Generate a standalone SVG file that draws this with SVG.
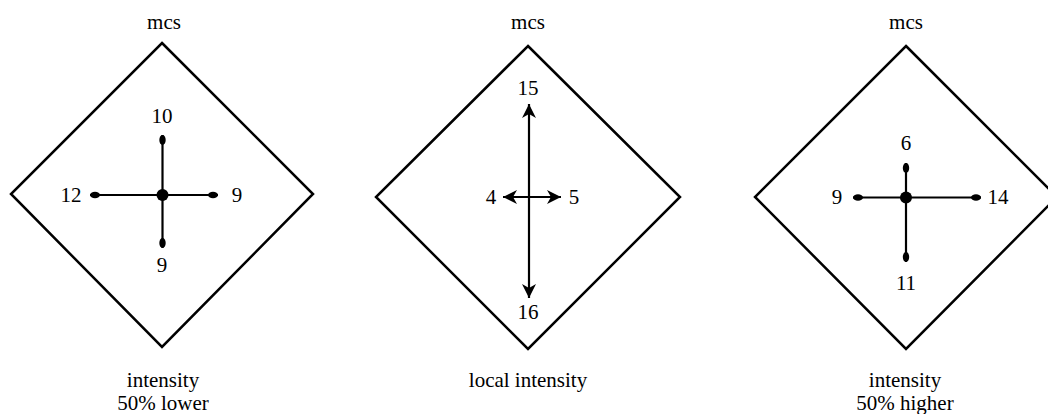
<svg xmlns="http://www.w3.org/2000/svg" width="1048" height="414" viewBox="0 0 1048 414">
<style>
text{font-family:"Liberation Serif","Times New Roman",serif;font-size:21px;fill:#000;text-anchor:middle}
.dia{fill:none;stroke:#000;stroke-width:2.5;stroke-linejoin:miter}
.ov{stroke:#000;stroke-width:2.2;fill:none;marker-end:url(#oval)}
.ar{stroke:#000;stroke-width:2.2;fill:none;marker-start:url(#arr);marker-end:url(#arr)}
</style>
<defs>
<marker id="oval" markerUnits="userSpaceOnUse" viewBox="-12 -4 13 8" refX="0" refY="0" markerWidth="13" markerHeight="8" orient="auto">
<ellipse cx="-5" cy="0" rx="5" ry="3.2" fill="#000"/>
</marker>
<marker id="arr" markerUnits="userSpaceOnUse" viewBox="-16 -8 17 16" refX="0" refY="0" markerWidth="17" markerHeight="16" orient="auto-start-reverse">
<path d="M0,0 L-14,-7 L-10,0 L-14,7 Z" fill="#000"/>
</marker>
</defs>
<g id="panel-lower">
<polygon class="dia" points="162,43 313,194 162,347 11,194"/>
<text x="164" y="29">mcs</text>
<text x="163" y="387">intensity</text>
<text x="163" y="410">50% lower</text>
<text x="162" y="123">10</text>
<text x="71" y="202">12</text>
<text x="237" y="202">9</text>
<text x="162" y="272">9</text>
</g>
<g id="panel-local">
<polygon class="dia" points="528,46 680,197 528,349 376,197"/>
<text x="528" y="29">mcs</text>
<text x="528" y="387">local intensity</text>
<text x="528" y="95">15</text>
<text x="528" y="319">16</text>
<text x="491" y="204">4</text>
<text x="574" y="204">5</text>
</g>
<g id="panel-higher">
<polygon class="dia" points="906,46 1057,197 906,349 755,197"/>
<text x="906" y="29">mcs</text>
<text x="905" y="387">intensity</text>
<text x="905" y="410">50% higher</text>
<text x="906" y="150">6</text>
<text x="837" y="204">9</text>
<text x="998" y="204">14</text>
<text x="906" y="290">11</text>
</g>
<g id="connectors">
<line class="ov" x1="162.5" y1="195" x2="162.5" y2="135"/>
<line class="ov" x1="162.5" y1="195" x2="162.5" y2="248"/>
<line class="ov" x1="162.5" y1="195" x2="90" y2="195"/>
<line class="ov" x1="162.5" y1="195" x2="218" y2="195"/>
<circle cx="162.5" cy="195" r="6" fill="#000"/>
<line class="ar" x1="529" y1="104" x2="529" y2="298"/>
<line class="ar" x1="503" y1="197" x2="561" y2="197"/>
<line class="ov" x1="906" y1="197.5" x2="906" y2="163"/>
<line class="ov" x1="906" y1="197.5" x2="906" y2="262"/>
<line class="ov" x1="906" y1="197.5" x2="853" y2="197.5"/>
<line class="ov" x1="906" y1="197.5" x2="981" y2="197.5"/>
<circle cx="906" cy="197.5" r="6" fill="#000"/>
</g>
</svg>
